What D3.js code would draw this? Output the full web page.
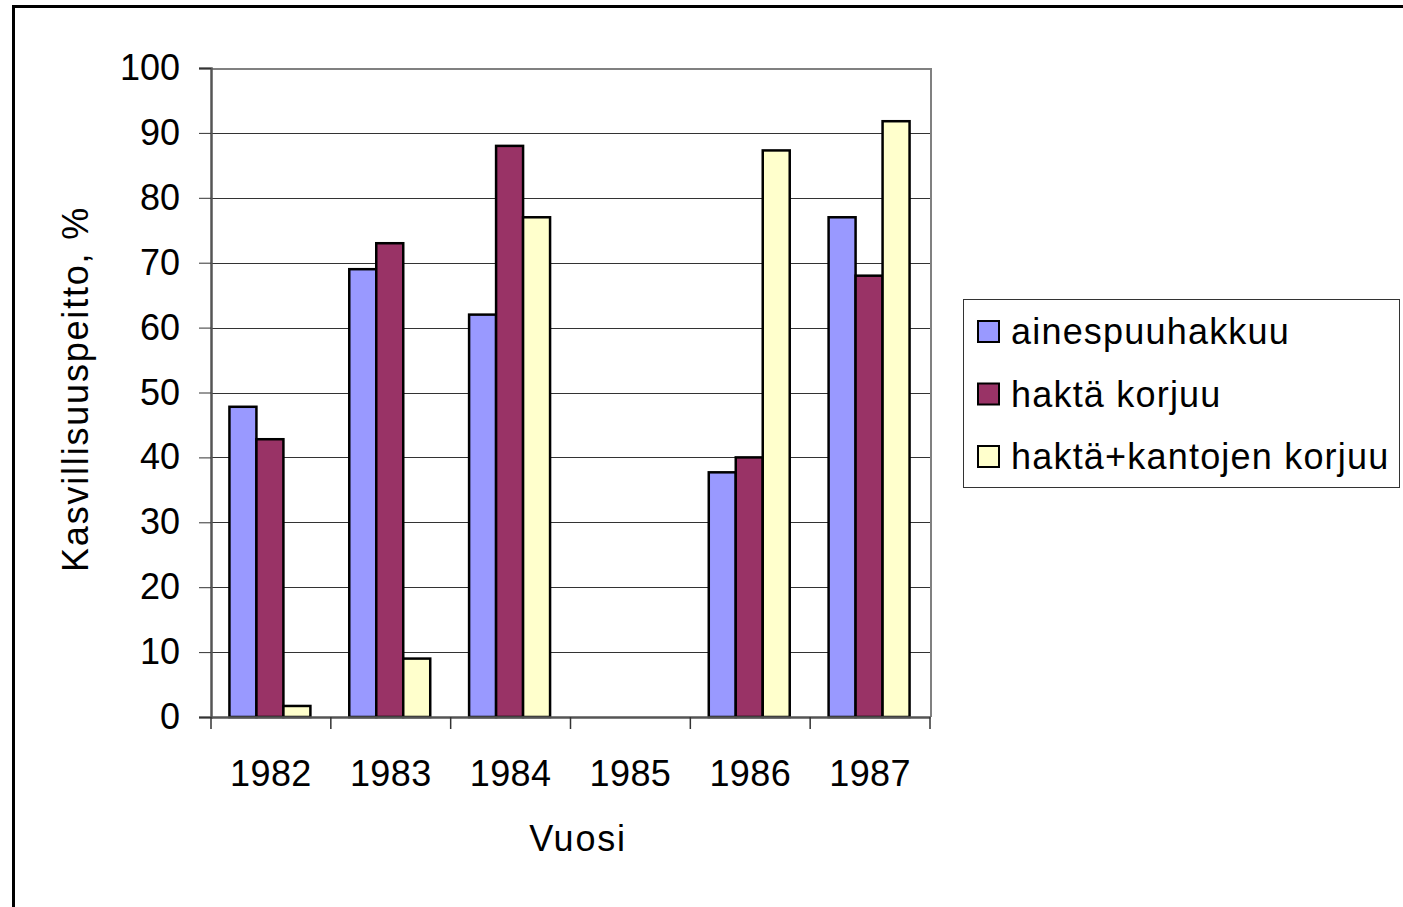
<!DOCTYPE html>
<html>
<head>
<meta charset="utf-8">
<script src="https://cdn.jsdelivr.net/npm/d3@7"></script>
<style>
  body { margin: 0; background: #fff; }
  text { font-family: "Liberation Sans", Arial, sans-serif; fill: #000; }
</style>
</head>
<body>
<svg id="chart" width="1403" height="907"></svg>
<script>
// data
var years = ["1982", "1983", "1984", "1985", "1986", "1987"];
var seriesNames = ["ainespuuhakkuu", "haktä korjuu", "haktä+kantojen korjuu"];
var ainespuuhakkuu = [47.8, 69, 62, null, 37.7, 77];
var haktaKorjuu = [42.8, 73, 88, null, 40, 68];
var haktaKantojen = [1.7, 9, 77, null, 87.3, 91.8];
var yTicks = [0, 10, 20, 30, 40, 50, 60, 70, 80, 90, 100];
var colors = ["#9999ff", "#993366", "#ffffcc"];

var seriesValues = [ainespuuhakkuu, haktaKorjuu, haktaKantojen];

var svg = d3.select("#chart");
var plotLeft = 211, plotRight = 930, plotTop = 68, plotBottom = 717;

// outer frame of the chart
svg.append("rect")
  .attr("x", 13.5).attr("y", 6.5)
  .attr("width", 1500).attr("height", 1000)
  .attr("fill", "none")
  .attr("stroke", "#000")
  .attr("stroke-width", 3);

var x = d3.scaleBand()
  .domain(years)
  .range([plotLeft, plotRight])
  .paddingInner(0);

var bx = d3.scaleBand()
  .domain(d3.range(seriesNames.length))
  .range([0, x.bandwidth()])
  .paddingOuter(0.72)
  .paddingInner(0);

var y = d3.scaleLinear()
  .domain([0, 100])
  .range([plotBottom, plotTop]);

// gridlines
svg.append("g")
  .selectAll("line")
  .data(yTicks.filter(function(t) { return t > 0 && t < 100; }))
  .enter()
  .append("line")
  .attr("x1", plotLeft).attr("x2", plotRight)
  .attr("y1", function(d) { return Math.round(y(d)) + 0.5; })
  .attr("y2", function(d) { return Math.round(y(d)) + 0.5; })
  .attr("stroke", "#333")
  .attr("stroke-width", 1);

// plot border (top and right)
svg.append("path")
  .attr("d", "M" + plotLeft + "," + (plotTop + 1) + "H" + (plotRight + 1) + "V" + plotBottom)
  .attr("fill", "none")
  .attr("stroke", "#808080")
  .attr("stroke-width", 2);

// bars
var groups = svg.append("g")
  .selectAll("g")
  .data(seriesValues)
  .enter()
  .append("g")
  .attr("fill", function(d, i) { return colors[i]; });

groups.each(function(vals, si) {
  d3.select(this).selectAll("rect")
    .data(vals.map(function(v, i) { return { year: years[i], value: v }; })
      .filter(function(d) { return d.value != null; }))
    .enter()
    .append("rect")
    .attr("x", function(d) { return x(d.year) + bx(si) - 1; })
    .attr("y", function(d) { return y(d.value); })
    .attr("width", bx.bandwidth())
    .attr("height", function(d) { return plotBottom - y(d.value); })
    .attr("stroke", "#000")
    .attr("stroke-width", 2.5);
});

// y axis
var yAxis = svg.append("g")
  .attr("transform", "translate(" + plotLeft + ",0)")
  .call(d3.axisLeft(y).tickValues(yTicks).tickSize(12).tickPadding(19));
yAxis.select(".domain").attr("stroke", "#555").attr("stroke-width", 2.5);
yAxis.selectAll(".tick line").attr("stroke", "#333");
yAxis.selectAll("text")
  .style("font-size", "36px")
  .attr("font-family", null);

// x axis
var xAxis = svg.append("g")
  .attr("transform", "translate(0," + plotBottom + ")")
  .call(d3.axisBottom(x).tickSize(0).tickPadding(43));
xAxis.select(".domain").attr("stroke", "#555").attr("stroke-width", 2.5);
xAxis.selectAll("text")
  .style("font-size", "36px")
  .style("letter-spacing", "0.4px")
  .attr("font-family", null);

// category boundary ticks
xAxis.selectAll(".sep")
  .data(d3.range(years.length + 1))
  .enter()
  .append("line")
  .attr("x1", function(i) { return plotLeft + i * x.step(); })
  .attr("x2", function(i) { return plotLeft + i * x.step(); })
  .attr("y1", 0)
  .attr("y2", 12)
  .attr("stroke", "#333")
  .attr("stroke-width", 1.5);

// axis titles
svg.append("text")
  .attr("transform", "translate(88,389) rotate(-90)")
  .attr("text-anchor", "middle")
  .style("font-size", "36px")
  .style("letter-spacing", "1.8px")
  .text("Kasvillisuuspeitto, %");

svg.append("text")
  .attr("x", 578)
  .attr("y", 851)
  .attr("text-anchor", "middle")
  .style("font-size", "36px")
  .style("letter-spacing", "1.8px")
  .text("Vuosi");

// legend
var legend = svg.append("g");
legend.append("rect")
  .attr("x", 963.5).attr("y", 299.5)
  .attr("width", 436).attr("height", 188)
  .attr("fill", "#fff")
  .attr("stroke", "#333")
  .attr("stroke-width", 1);

var items = legend.selectAll(".item")
  .data(seriesNames)
  .enter()
  .append("g")
  .attr("transform", function(d, i) { return "translate(978," + (331 + i * 62.5) + ")"; });

items.append("rect")
  .attr("x", 0).attr("y", -10)
  .attr("width", 21).attr("height", 21)
  .attr("fill", function(d, i) { return colors[i]; })
  .attr("stroke", "#000")
  .attr("stroke-width", 2);

items.append("text")
  .attr("x", 33)
  .attr("y", 13)
  .style("font-size", "36px")
  .style("letter-spacing", "1.2px")
  .text(function(d) { return d; });
</script>
</body>
</html>
